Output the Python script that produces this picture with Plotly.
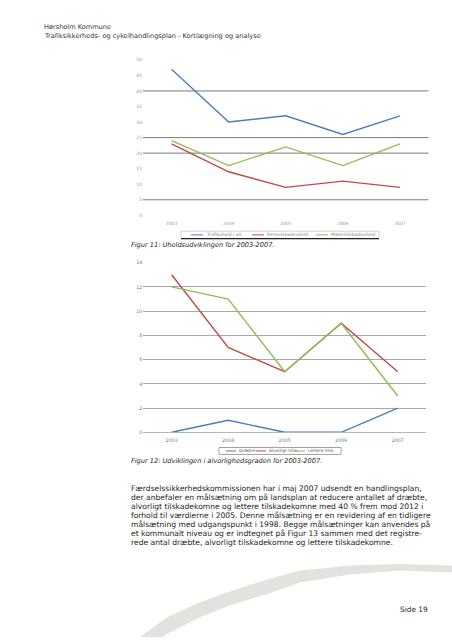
import plotly.graph_objects as go

W, H = 452, 640

# ---- data ----
years = ["2003", "2004", "2005", "2006", "2007"]

fig1_names = ["Trafikuheld i alt", "Personskadeuheld", "Materielskadeuheld"]
fig1_total = [47, 30, 32, 26, 32]
fig1_person = [23, 14, 9, 11, 9]
fig1_materiel = [24, 16, 22, 16, 23]

fig2_names = ["Dræbte", "Alvorligt tilsk.", "Lettere tilsk."]
fig2_killed = [0, 1, 0, 0, 2]
fig2_serious = [13, 7, 5, 9, 5]
fig2_light = [12, 11, 5, 9, 3]

y1_ticks = [0, 5, 10, 15, 20, 25, 30, 35, 40, 45, 50]
y1_dark_grid = [40, 25, 20, 5]
y2_ticks = [0, 2, 4, 6, 8, 10, 12, 14]

colors = ["#4a7ebb", "#be4b48", "#98b954"]

header = ["Hørsholm Kommune",
          "Trafiksikkerheds- og cykelhandlingsplan - Kortlægning og analyse"]
caption1 = "Figur 11: Uheldsudviklingen for 2003-2007."
caption2 = "Figur 12: Udviklingen i alvorlighedsgraden for 2003-2007."
body = [
    "Færdselssikkerhedskommissionen har i maj 2007 udsendt en handlingsplan,",
    "der anbefaler en målsætning om på landsplan at reducere antallet af dræbte,",
    "alvorligt tilskadekomne og lettere tilskadekomne med 40 % frem mod 2012 i",
    "forhold til værdierne i 2005. Denne målsætning er en revidering af en tidligere",
    "målsætning med udgangspunkt i 1998. Begge målsætninger kan anvendes på",
    "et kommunalt niveau og er indtegnet på Figur 13 sammen med det registre-",
    "rede antal dræbte, alvorligt tilskadekomne og lettere tilskadekomne.",
]
page_label = "Side 19"


def px(x):
    return x / W


def py(y):
    return 1 - y / H


FONT = "DejaVu Sans"
xs = list(range(len(years)))

fig = go.Figure()
for vals, c in zip([fig1_total, fig1_person, fig1_materiel], colors):
    fig.add_trace(go.Scatter(x=xs, y=vals, mode="lines", xaxis="x", yaxis="y",
                             line=dict(color=c, width=1.4), showlegend=False,
                             hoverinfo="skip"))
for vals, c in zip([fig2_killed, fig2_serious, fig2_light], colors):
    fig.add_trace(go.Scatter(x=xs, y=vals, mode="lines", xaxis="x2", yaxis="y2",
                             line=dict(color=c, width=1.4), showlegend=False,
                             hoverinfo="skip"))

shapes = []
annotations = []

# background swoosh
upper = [(140, 640), (167, 620), (200, 605), (233, 593), (267, 582), (300, 573),
         (350, 568), (400, 566.5), (452, 568)]
lower = [(452, 575), (400, 573), (350, 577), (300, 585), (267, 597), (233, 607),
         (200, 620), (167, 637), (163, 640)]
path = "M " + " L ".join(f"{px(x):.4f},{py(y):.4f}" for x, y in upper + lower) + " Z"
shapes.append(dict(type="path", xref="paper", yref="paper", path=path,
                   fillcolor="#e4e2de", line=dict(width=0), layer="below"))

# chart 1 dark gridlines
for g in y1_dark_grid:
    shapes.append(dict(type="line", xref="x domain", yref="y", x0=0, x1=1, y0=g, y1=g,
                       line=dict(color="#7a7a7a", width=1), layer="below"))

# legend 1
shapes.append(dict(type="rect", xref="paper", yref="paper", x0=px(181), x1=px(379),
                   y0=py(238.5), y1=py(231), line=dict(color="#c8c8c8", width=0.8)))
shapes.append(dict(type="line", xref="paper", yref="paper", x0=px(181), x1=px(379),
                   y0=py(238.5), y1=py(238.5), line=dict(color="#222", width=1.2)))
leg1_x = [191, 252, 316]
for name, c, x0 in zip(fig1_names, colors, leg1_x):
    shapes.append(dict(type="line", xref="paper", yref="paper", x0=px(x0), x1=px(x0 + 12),
                       y0=py(234.7), y1=py(234.7), line=dict(color=c, width=1)))
    annotations.append(dict(xref="paper", yref="paper", x=px(x0 + 13), y=py(234.7),
                            text=name, showarrow=False, xanchor="left", yanchor="middle",
                            font=dict(family=FONT, size=4.5, color="#888")))

# legend 2
shapes.append(dict(type="rect", xref="paper", yref="paper", x0=px(219), x1=px(341),
                   y0=py(456), y1=py(449), line=dict(color="#8a8a8a", width=0.8)))
leg2_x = [226, 256, 295]
for name, c, x0 in zip(fig2_names, colors, leg2_x):
    shapes.append(dict(type="line", xref="paper", yref="paper", x0=px(x0), x1=px(x0 + 10),
                       y0=py(452.5), y1=py(452.5), line=dict(color=c, width=1)))
    annotations.append(dict(xref="paper", yref="paper", x=px(x0 + 11), y=py(452.5),
                            text=name, showarrow=False, xanchor="left", yanchor="middle",
                            font=dict(family=FONT, size=4.3, color="#555")))


def text(x, y, s, size, color="#222", italic=False, xanchor="left"):
    annotations.append(dict(xref="paper", yref="paper", x=px(x), y=py(y), text=s,
                            showarrow=False, xanchor=xanchor, yanchor="middle",
                            font=dict(family=FONT, size=size, color=color,
                                      style="italic" if italic else "normal")))


text(42, 25.5, header[0], 6.6, "#333")
text(42, 34.5, header[1], 6.6, "#333")
text(129, 244.5, caption1, 6.6, "#222", italic=True)
text(129, 462.5, caption2, 6.6, "#222", italic=True)
for i, line in enumerate(body):
    text(129, 490.7 + i * 9.06, line, 7.6, "#222")
text(430, 612.7, page_label, 7.4, "#222", xanchor="right")

fig.update_layout(
    width=W, height=H, margin=dict(l=0, r=0, t=0, b=0),
    paper_bgcolor="white", plot_bgcolor="rgba(0,0,0,0)",
    showlegend=False,
    xaxis=dict(domain=[px(143), px(428.5)], range=[-0.5, 4.5], tickvals=xs,
               ticktext=years, showgrid=False, zeroline=False, showline=False,
               ticklabelstandoff=4,
               tickfont=dict(family=FONT, size=4.5, color="#999"), anchor="y"),
    yaxis=dict(domain=[py(215), py(58.3)], range=[0, 50], tickvals=y1_ticks,
               showgrid=False, zeroline=False, showline=False,
               tickfont=dict(family=FONT, size=4.5, color="#999"), anchor="x"),
    xaxis2=dict(domain=[px(143.4), px(426)], range=[-0.5, 4.5], tickvals=xs,
                ticktext=years, showgrid=False, zeroline=False, showline=True,
                linecolor="#a9b9c9", linewidth=1, ticklabelstandoff=3,
                tickfont=dict(family=FONT, size=4.8, color="#777"), anchor="y2"),
    yaxis2=dict(domain=[py(433.7), py(262.7)], range=[0, 14], tickvals=y2_ticks,
                showgrid=True, gridcolor="#a8a8a8", gridwidth=1, zeroline=False,
                showline=False,
                tickfont=dict(family=FONT, size=4.8, color="#777"), anchor="x2"),
    shapes=shapes, annotations=annotations,
)

fig.write_html("out.html", config={"displayModeBar": False},
               post_script="document.body.style.margin='0';document.body.style.overflow='hidden';")
